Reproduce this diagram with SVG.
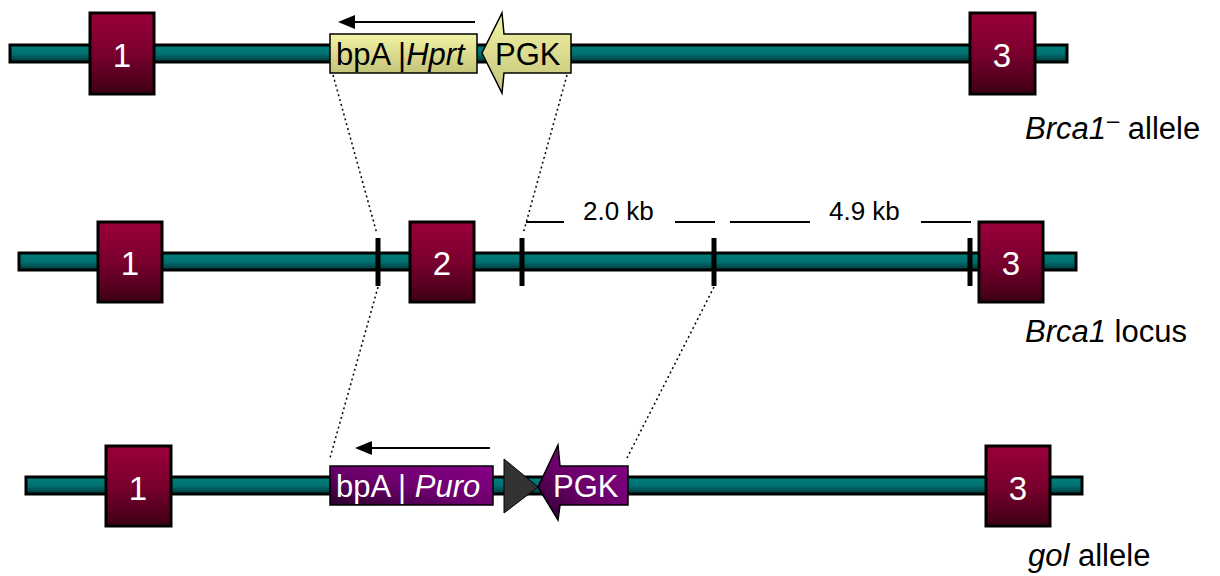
<svg xmlns="http://www.w3.org/2000/svg" width="1220" height="576" viewBox="0 0 1220 576">
<defs>
<linearGradient id="gBar" x1="0" y1="0" x2="0" y2="1"><stop offset="0" stop-color="#008080"/><stop offset="0.5" stop-color="#007070"/><stop offset="1" stop-color="#003838"/></linearGradient>
<linearGradient id="gExon" x1="0" y1="0" x2="0" y2="1"><stop offset="0" stop-color="#9a003a"/><stop offset="0.5" stop-color="#7a002e"/><stop offset="1" stop-color="#3e0016"/></linearGradient>
<linearGradient id="gYel" x1="0" y1="0" x2="0" y2="1"><stop offset="0" stop-color="#f4f4a6"/><stop offset="1" stop-color="#c4c47a"/></linearGradient>
<linearGradient id="gPur" x1="1" y1="0" x2="0" y2="1"><stop offset="0" stop-color="#880088"/><stop offset="0.55" stop-color="#6a006a"/><stop offset="1" stop-color="#2a002a"/></linearGradient>
</defs>
<style>
.bar{fill:url(#gBar);stroke:#000;stroke-width:3}
.exon{fill:url(#gExon);stroke:#000;stroke-width:3}
.num{font-family:"Liberation Sans",Arial,sans-serif;font-size:33px;fill:#fff;text-anchor:middle}
.lbl{font-family:"Liberation Sans",Arial,sans-serif;font-size:31px;fill:#000}
.box{font-family:"Liberation Sans",Arial,sans-serif;font-size:31px;fill:#000}
.wbox{font-family:"Liberation Sans",Arial,sans-serif;font-size:31px;fill:#fff}
.kb{font-family:"Liberation Sans",Arial,sans-serif;font-size:26px;fill:#000}
.dot{stroke:#000;stroke-width:1.5;stroke-dasharray:2 3;fill:none}
.tick{fill:#000}
.kbl{stroke:#000;stroke-width:2}
.arr{stroke:#000;stroke-width:2;fill:none}
</style>

<g id="connectors">
<line class="dot" x1="333" y1="75" x2="377" y2="234"/>
<line class="dot" x1="567" y1="75" x2="523" y2="234"/>
<line class="dot" x1="378" y1="287" x2="330" y2="458"/>
<line class="dot" x1="714" y1="287" x2="627" y2="458"/>
</g>

<g id="allele-minus">
<rect class="bar" x="10" y="45" width="1057" height="17"/>
<g id="m-exon1"><rect class="exon" x="90" y="13" width="64" height="81"/><text class="num" x="122" y="67">1</text></g>
<g id="m-exon3"><rect class="exon" x="970" y="13" width="65" height="81"/><text class="num" x="1002" y="67">3</text></g>
<g id="m-hprt"><rect x="330" y="34" width="147" height="39" fill="url(#gYel)" stroke="#000" stroke-width="1.5"/>
<text class="box" x="336" y="65">bpA |<tspan font-style="italic">Hprt</tspan></text></g>
<g id="m-pgk"><polygon points="571,34 504,34 502,13 482,53 502,93 504,73 571,73" fill="url(#gYel)" stroke="#000" stroke-width="1.5"/>
<text class="box" x="495" y="65">PGK</text></g>
<g id="m-arrow"><line class="arr" x1="475" y1="22" x2="352" y2="22"/><polygon points="338,22 355,15 355,29" fill="#000"/></g>
<text id="lbl-minus" class="lbl" x="1025" y="139"><tspan font-style="italic">Brca1</tspan><tspan dx="1" dy="-11" font-size="22">–</tspan><tspan dy="11"> allele</tspan></text>
</g>

<g id="locus">
<rect class="bar" x="19" y="253" width="1057" height="17"/>
<g id="l-exon1"><rect class="exon" x="98" y="222" width="64" height="80"/><text class="num" x="130" y="275">1</text></g>
<g id="l-exon2"><rect class="exon" x="410" y="222" width="64" height="80"/><text class="num" x="442" y="275">2</text></g>
<g id="l-exon3"><rect class="exon" x="979" y="222" width="64" height="80"/><text class="num" x="1011" y="275">3</text></g>
<rect class="tick" x="375.5" y="238" width="5" height="48"/>
<rect class="tick" x="519.5" y="238" width="5" height="48"/>
<rect class="tick" x="711.5" y="238" width="5" height="48"/>
<rect class="tick" x="967.5" y="238" width="5" height="48"/>
<line class="kbl" x1="526" y1="222" x2="564" y2="222"/>
<line class="kbl" x1="675" y1="222" x2="715" y2="222"/>
<text class="kb" x="583" y="220">2.0 kb</text>
<line class="kbl" x1="730" y1="222" x2="810" y2="222"/>
<line class="kbl" x1="921" y1="222" x2="971" y2="222"/>
<text class="kb" x="829" y="220">4.9 kb</text>
<text id="lbl-locus" class="lbl" x="1025" y="342"><tspan font-style="italic">Brca1</tspan> locus</text>
</g>

<g id="gol">
<rect class="bar" x="26" y="477" width="1056" height="17"/>
<g id="g-exon1"><rect class="exon" x="106" y="446" width="65" height="80"/><text class="num" x="138" y="500">1</text></g>
<g id="g-exon3"><rect class="exon" x="986" y="446" width="64" height="80"/><text class="num" x="1018" y="500">3</text></g>
<g id="g-puro"><rect x="330" y="466" width="163" height="39" fill="url(#gPur)" stroke="#000" stroke-width="1.5"/>
<text class="wbox" x="336" y="497">bpA | <tspan font-style="italic">Puro</tspan></text></g>
<g id="g-lox"><polygon points="504,459 538,487 504,513" fill="#333" stroke="#000" stroke-width="1"/></g>
<g id="g-pgk"><polygon points="628,466 560,466 558,445 538,487 558,520 560,505 628,505" fill="url(#gPur)" stroke="#000" stroke-width="1.5"/>
<text class="wbox" x="553" y="497">PGK</text></g>
<g id="g-arrow"><line class="arr" x1="490" y1="448" x2="369" y2="448"/><polygon points="355,448 372,441 372,455" fill="#000"/></g>
<text id="lbl-gol" class="lbl" x="1028" y="566"><tspan font-style="italic">gol</tspan> allele</text>
</g>
</svg>
